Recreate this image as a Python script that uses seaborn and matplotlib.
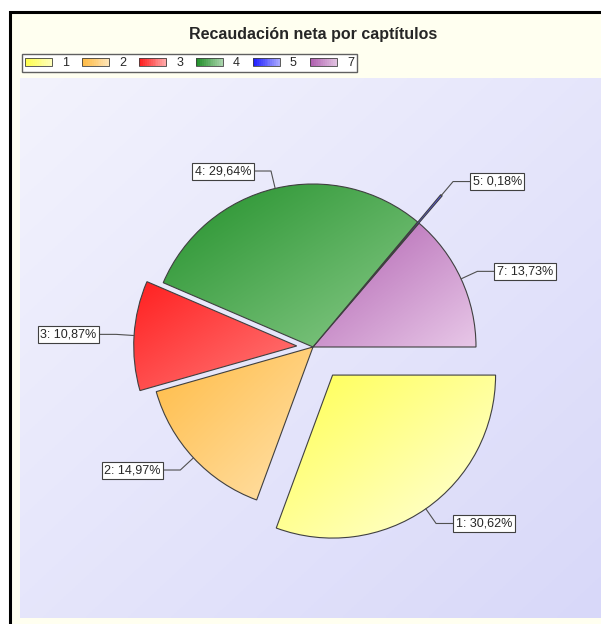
import numpy as np
import matplotlib
matplotlib.use('Agg')
import matplotlib.pyplot as plt
from matplotlib.patches import Patch, Rectangle
from matplotlib.colors import to_rgb
from matplotlib.legend_handler import HandlerBase
import seaborn as sns

# datos: recaudación neta por capítulos (%)
capitulos = ['1', '2', '3', '4', '5', '7']
porcentajes = [30.62, 14.97, 10.87, 29.64, 0.18, 13.73]
separacion = [0.21, 0, 0.1, 0, 0.22, 0]
colores = ['#ffff50', '#ffbb44', '#ff2020', '#22902a', '#2020ff', '#b060b0']
colores_claros = ['#ffffe0', '#ffe2ac', '#ff7a7a', '#8acb8a', '#9a9aff', '#e8c8e8']

sns.set_theme(style='white')
plt.rcParams['font.family'] = ['Liberation Sans', 'DejaVu Sans']

W, H = 601, 624
R = 163            # radio del pastel en px
cx, cy = 313, 347  # centro del pastel en px (desde arriba a la izquierda)


def degradado(c0, c1, n=200):
    c0, c1 = np.array(to_rgb(c0)), np.array(to_rgb(c1))
    i, j = np.mgrid[0:n, 0:n]
    t = (i + j) / (2 * (n - 1))
    return c0 + (c1 - c0) * t[..., None]


class HandlerDegradado(HandlerBase):
    # cuadro de leyenda con degradado horizontal (oscuro -> claro)
    def create_artists(self, legend, orig_handle, xdescent, ydescent, width, height, fontsize, trans):
        c0 = np.array(to_rgb(orig_handle.get_facecolor()))
        c1 = c0 + (1 - c0) * 0.6
        n = 14
        artistas = []
        for k in range(n):
            t = k / (n - 1)
            artistas.append(Rectangle((-xdescent + width * k / n, -ydescent), width / n + 0.3, height,
                                      facecolor=c0 + (c1 - c0) * t, edgecolor='none', transform=trans))
        artistas.append(Rectangle((-xdescent, -ydescent), width, height, facecolor='none',
                                  edgecolor='#404040', linewidth=0.6, transform=trans))
        return artistas


fig = plt.figure(figsize=(W / 100, H / 100), dpi=100, facecolor='white')

# marco negro con fondo crema
fig.add_artist(Rectangle((10.5 / W, -0.05), 1, 1 - 12 / H + 0.05, transform=fig.transFigure,
                         facecolor='#fffff0', edgecolor='black', linewidth=2.2, zorder=0))

# fondo del área de gráfico
ax_bg = fig.add_axes([20 / W, 1 - 618 / H, (W - 20) / W, (618 - 78) / H])
ax_bg.imshow(degradado('#f3f3fd', '#d8d8f9'), aspect='auto', extent=(0, 1, 0, 1), origin='upper')
ax_bg.axis('off')

ax = fig.add_axes([0, 0, 1, 1])
ax.patch.set_alpha(0)
wedges, _ = ax.pie(porcentajes, explode=separacion, colors=colores, startangle=0,
                   counterclock=False, wedgeprops=dict(edgecolor='#404040', linewidth=0.8))

# relleno degradado de cada porción
for w, c0, c1 in zip(wedges, colores, colores_claros):
    v = w.get_path().vertices
    ext = (v[:, 0].min(), v[:, 0].max(), v[:, 1].min(), v[:, 1].max())
    ax.imshow(degradado(c0, c1), extent=ext, origin='upper', aspect='auto',
              clip_path=w, zorder=2)
    w.set_facecolor('none')
    w.set_zorder(3)

# etiquetas con línea de referencia
for w, cap, val, exp in zip(wedges, capitulos, porcentajes, separacion):
    ang = np.deg2rad((w.theta1 + w.theta2) / 2)
    dx, dy = np.cos(ang), np.sin(ang)
    r0 = 1 + exp
    codo = r0 + 0.11
    lado = 1 if dx >= 0 else -1
    ax.annotate(f'{cap}: {val:.2f}%'.replace('.', ','),
                xy=(r0 * dx, r0 * dy), xytext=(codo * dx + lado * 0.12, codo * dy),
                ha='left' if lado > 0 else 'right', va='center', fontsize=9,
                bbox=dict(boxstyle='square,pad=0.2', fc='white', ec='#404040', lw=0.8),
                arrowprops=dict(arrowstyle='-', color='#505050', lw=0.8, shrinkA=0, shrinkB=0,
                                connectionstyle=f'angle,angleA=0,angleB={np.rad2deg(ang)},rad=0'),
                zorder=5)

ax.set_xlim(-cx / R, (W - cx) / R)
ax.set_ylim(-(H - cy) / R, cy / R)
ax.set_aspect('auto')
ax.axis('off')

fig.text(313 / W, 1 - 34 / H, 'Recaudación neta por captítulos', ha='center', va='center',
         fontsize=11.5, fontweight='bold')

handles = [Patch(facecolor=c, label=l) for c, l in zip(colores, capitulos)]
fig.legend(handles=handles, handler_map={Patch: HandlerDegradado()}, loc='upper left',
           bbox_to_anchor=(22 / W, 1 - 54 / H), ncol=6,
           fontsize=9, frameon=True, fancybox=False, edgecolor='#606060', framealpha=1,
           handlelength=2.16, handleheight=0.56, handletextpad=0.8, columnspacing=1.04,
           borderpad=0.25, borderaxespad=0)

fig.savefig('out.png', dpi=100, facecolor='white')
